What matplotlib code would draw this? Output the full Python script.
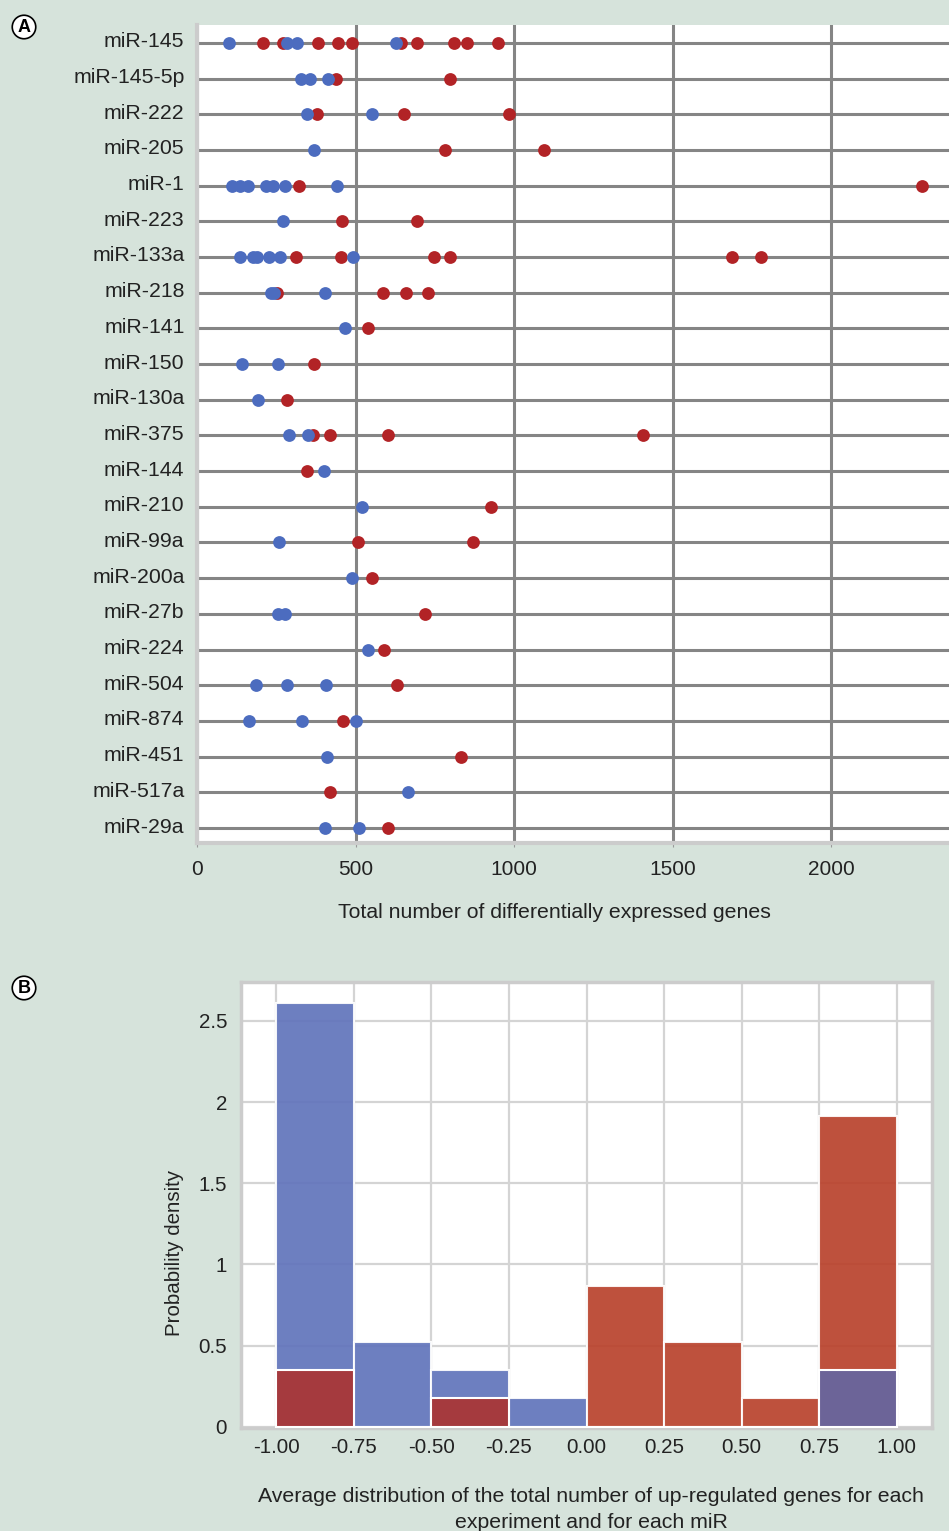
import matplotlib
matplotlib.use("Agg")
from matplotlib import pyplot as plt
from matplotlib import transforms
import numpy as np

plt.rcParams['font.family'] = ['Liberation Sans', 'DejaVu Sans']

# panel A data
mirs = ['miR-145', 'miR-145-5p', 'miR-222', 'miR-205', 'miR-1', 'miR-223',
        'miR-133a', 'miR-218', 'miR-141', 'miR-150', 'miR-130a', 'miR-375',
        'miR-144', 'miR-210', 'miR-99a', 'miR-200a', 'miR-27b', 'miR-224',
        'miR-504', 'miR-874', 'miR-451', 'miR-517a', 'miR-29a']
blue_vals = [[102, 285, 315, 628], [329, 358, 414], [347, 551], [369],
             [109, 137, 161, 217, 240, 276, 443], [270],
             [137, 178, 190, 226, 262, 493], [233, 244, 404], [466],
             [141, 255], [192], [290, 350], [400], [520], [259], [488],
             [257, 278], [539], [187, 283, 407], [165, 331, 501], [411],
             [665], [403, 512]]
red_vals = [[207, 271, 381, 446, 490, 642, 695, 812, 851, 951], [440, 797],
            [377, 654, 985], [782, 1093], [323, 2287], [456, 695],
            [312, 453, 748, 797, 1688, 1780], [251, 588, 660, 729], [540],
            [370], [285], [365, 418, 602, 1408], [348], [928], [509, 872],
            [553], [719], [591], [632], [460], [833], [418], [603]]
x_ticks = [0, 500, 1000, 1500, 2000]

# panel B data (counts of miRs per bin)
bin_edges = [-1.0, -0.75, -0.5, -0.25, 0.0, 0.25, 0.5, 0.75, 1.0]
blue_counts = [15, 3, 2, 1, 0, 0, 0, 2]
red_counts = [2, 0, 1, 0, 5, 3, 1, 11]

bg = '#d6e3db'
txt = '#222222'
fig = plt.figure(figsize=(9.49, 15.31), dpi=100, facecolor=bg)

# ---------- panel A ----------
ax = fig.add_axes([197 / 949, 1 - 843 / 1531, 752 / 949, 818 / 1531])
ax.set_facecolor('white')
for i in range(len(mirs)):
    ax.scatter(red_vals[i], [i] * len(red_vals[i]), s=85, color='#b22326',
               zorder=3, linewidths=0)
    ax.scatter(blue_vals[i], [i] * len(blue_vals[i]), s=85, color='#4c6cbf',
               zorder=4, linewidths=0)
ax.set_yticks(range(len(mirs)))
ax.set_yticklabels(mirs, fontsize=15.3, color=txt)
ax.set_ylim(22.42, -0.5)
ax.set_xlim(0, 2372)
ax.set_xticks(x_ticks)
ax.set_xticklabels([str(v) for v in x_ticks], fontsize=15, color=txt)
ax.grid(True, color='#858585', lw=2.2, zorder=1)
ax.set_axisbelow(True)
ax.tick_params(axis='y', length=0, pad=9)
ax.tick_params(axis='x', length=3, color='#999999', pad=9)
for s in ['top', 'right']:
    ax.spines[s].set_visible(False)
for s in ['left', 'bottom']:
    ax.spines[s].set_color('#cccccc')
    ax.spines[s].set_linewidth(3)
off = transforms.ScaledTranslation(0, 3 / 100, fig.dpi_scale_trans)
for lab in ax.get_yticklabels():
    lab.set_transform(lab.get_transform() + off)
ax.set_xlabel('Total number of differentially expressed genes', fontsize=15.3,
              color=txt)
ax.xaxis.set_label_coords(0.475, -0.073)

# ---------- panel B ----------
bx = fig.add_axes([241 / 949, 1 - 1428 / 1531, 691 / 949, 446 / 1531])
bx.set_facecolor('white')
edges = np.array(bin_edges)
width = np.diff(edges)
centers = edges[:-1] + width / 2
blue_d = np.array(blue_counts) / (sum(blue_counts) * width)
red_d = np.array(red_counts) / (sum(red_counts) * width)
tall = np.maximum(blue_d, red_d)
short = np.minimum(blue_d, red_d)
tall_cols = ['#6174bb' if b >= r else '#b9422c' for b, r in zip(blue_d, red_d)]
over_cols = ['#a53a3e' if b >= r else '#6c6498' for b, r in zip(blue_d, red_d)]
bx.bar(centers, tall, width=width, color=tall_cols, alpha=0.92,
       edgecolor='white', linewidth=1.5, zorder=2)
bx.bar(centers, short, width=width, color=over_cols, edgecolor='white',
       linewidth=1.5, zorder=3)
bx.set_xlim(-1.113, 1.113)
bx.set_ylim(-0.008, 2.74)
bx.set_xticks(edges)
bx.set_xticklabels(['%.2f' % v for v in edges], fontsize=14.8, color=txt)
yt = [0, 0.5, 1, 1.5, 2, 2.5]
bx.set_yticks(yt)
bx.set_yticklabels(['0', '0.5', '1', '1.5', '2', '2.5'], fontsize=14.8,
                   color=txt)
bx.grid(True, color='#d4d4d4', lw=1.6, zorder=0)
bx.set_axisbelow(True)
bx.tick_params(length=0)
bx.tick_params(axis='x', pad=7)
bx.tick_params(axis='y', pad=10)
for s in bx.spines.values():
    s.set_color('#cccccc')
    s.set_linewidth(2.5)
bx.set_ylabel('Probability density', fontsize=14.8, color=txt)
bx.yaxis.set_label_coords(-0.082, 0.392)
bx.set_xlabel('Average distribution of the total number of up-regulated genes '
              'for each\nexperiment and for each miR', fontsize=15.3,
              color=txt, linespacing=1.42)
bx.xaxis.set_label_coords(0.5065, -0.133)

# panel letters
for letter, y in [('A', 27), ('B', 988)]:
    fig.text(24 / 949, 1 - y / 1531, letter, fontsize=13, fontweight='bold',
             ha='center', va='center', color='black',
             bbox=dict(boxstyle='circle,pad=0.18', fc='white', ec='black',
                       lw=1.2))

fig.savefig('out.png', dpi=100, facecolor=bg)
